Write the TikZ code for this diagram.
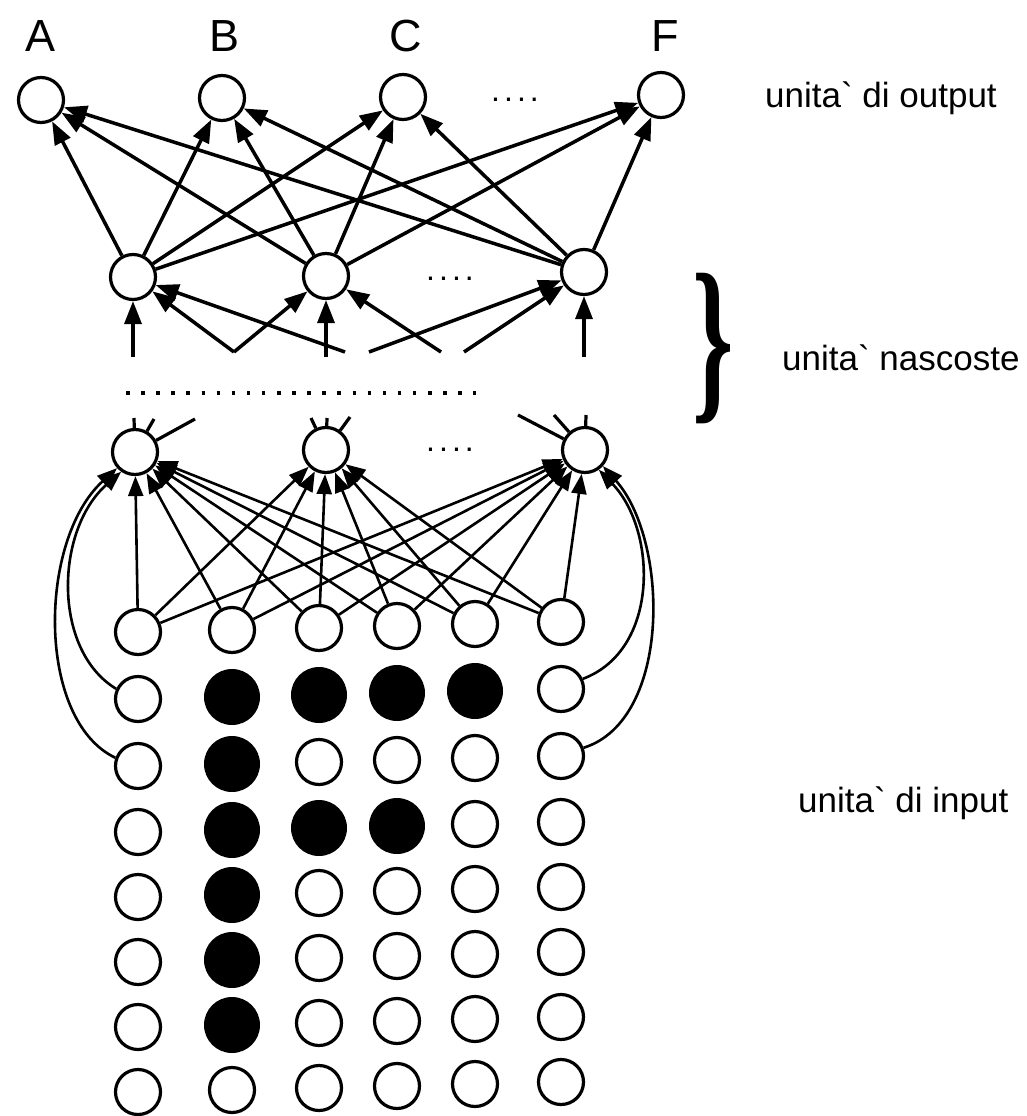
\documentclass[tikz,border=0pt]{standalone}
\usepackage{fontspec}
\usepackage{graphicx}
\newfontfamily\labfont{Liberation Sans}
\newfontfamily\bracefont{Liberation Serif}
\usetikzlibrary{arrows.meta}
\newcommand\inrow[8]{%
  \node[#3] (i#1a) at (138,#2) {};
  \node[#4] (i#1b) at (232,{#2-2}) {};
  \node[#5] (i#1c) at (319,{#2-4}) {};
  \node[#6] (i#1d) at (397,{#2-6}) {};
  \node[#7] (i#1e) at (475,{#2-8}) {};
  \node[#8] (i#1f) at (561,{#2-10}) {};}
\begin{document}
\begin{tikzpicture}[x=1pt,y=-1pt,
  wu/.style={circle,draw,line width=3.2pt,minimum size=45pt,inner sep=0pt,fill=white},
  bu/.style={circle,fill=black,minimum size=56pt,inner sep=0pt},
  outarrow/.style={line width=3.5pt,-{Triangle[length=23pt,width=17pt]}},
  inarrow/.style={line width=2.6pt,-{Triangle[length=20pt,width=15pt]}},
  stubline/.style={line width=3.2pt},
  letter/.style={font=\labfont\fontsize{45}{45}\selectfont,inner sep=0pt},
  caption/.style={font=\labfont\fontsize{35}{35}\selectfont,inner sep=0pt,anchor=base west},
  dotstext/.style={font=\labfont\fontsize{32}{32}\selectfont,inner sep=0pt}
]
\useasboundingbox[fill=white] (0,0) rectangle (1027,1116);

% output layer
\node[letter] (lA) at (41,36) {A};
\node[letter] (lB) at (225,36) {B};
\node[letter] (lC) at (406,36) {C};
\node[letter] (lF) at (665,36) {F};
\node[wu] (oA) at (41,100) {};
\node[wu] (oB) at (222,98) {};
\node[wu] (oC) at (403,97) {};
\node[wu] (oF) at (661,95) {};
\node[dotstext] (od) at (515,100) {.\hspace{4pt}.\hspace{4pt}.\hspace{4pt}.};

% upper hidden layer
\node[wu] (h1) at (133,277) {};
\node[wu] (h2) at (326,276) {};
\node[wu] (h3) at (584,272) {};
\node[dotstext] (hd) at (450,279) {.\hspace{4pt}.\hspace{4pt}.\hspace{4pt}.};

\foreach \h in {h1,h2,h3}
  \foreach \o in {oA,oB,oC,oF}
    \draw[outarrow] (\h) -- (\o);

% cut connections arriving at upper hidden layer
\coordinate (v1) at (133,357);
\coordinate (v2) at (234,352);
\coordinate (v3) at (345,352);
\coordinate (v4) at (326,357);
\coordinate (v5) at (369,352);
\coordinate (v6) at (441,352);
\coordinate (v7) at (464,352);
\coordinate (v8) at (584,357);
\draw[outarrow] (v1) -- (h1);
\draw[outarrow] (v2) -- (h1);
\draw[outarrow] (v3) -- (h1);
\draw[outarrow] (v2) -- (h2);
\draw[outarrow] (v4) -- (h2);
\draw[outarrow] (v6) -- (h2);
\draw[outarrow] (v5) -- (h3);
\draw[outarrow] (v7) -- (h3);
\draw[outarrow] (v8) -- (h3);

% dotted separator
\coordinate (dl) at (126,393);
\coordinate (dr) at (476,393);
\draw[line width=3.5pt,dash pattern=on 3.5pt off 11.6pt] (dl) -- (dr);

% lower hidden layer
\node[wu] (l1) at (135,452) {};
\node[wu] (l2) at (326,450) {};
\node[wu] (l3) at (585,450) {};
\node[dotstext] (ld) at (450,450) {.\hspace{4pt}.\hspace{4pt}.\hspace{4pt}.};

% cut connections leaving lower hidden layer
\coordinate (w1) at (134,418);
\coordinate (w2) at (154,419);
\coordinate (w3) at (195,419);
\coordinate (w4) at (311,418);
\coordinate (w5) at (327,418);
\coordinate (w6) at (350,417);
\coordinate (w7) at (518,415);
\coordinate (w8) at (554,415);
\coordinate (w9) at (586,415);
\draw[stubline] (l1) -- (w1);
\draw[stubline] (l1) -- (w2);
\draw[stubline] (l1) -- (w3);
\draw[stubline] (l2) -- (w4);
\draw[stubline] (l2) -- (w5);
\draw[stubline] (l2) -- (w6);
\draw[stubline] (l3) -- (w7);
\draw[stubline] (l3) -- (w8);
\draw[stubline] (l3) -- (w9);

% input grid
\inrow{0}{632}{wu}{wu}{wu}{wu}{wu}{wu}
\inrow{1}{699}{wu}{bu}{bu}{bu}{bu}{wu}
\inrow{2}{766}{wu}{bu}{wu}{wu}{wu}{wu}
\inrow{3}{832}{wu}{bu}{bu}{bu}{wu}{wu}
\inrow{4}{897}{wu}{bu}{wu}{wu}{wu}{wu}
\inrow{5}{962}{wu}{bu}{wu}{wu}{wu}{wu}
\inrow{6}{1027}{wu}{bu}{wu}{wu}{wu}{wu}
\inrow{7}{1092}{wu}{wu}{wu}{wu}{wu}{wu}

\foreach \c in {a,b,c,d,e,f}
  \foreach \l in {l1,l2,l3}
    \draw[inarrow] (i0\c) -- (\l);

\draw[inarrow] (i1a.155) .. controls (52,650) and (55,530) .. (l1.235);
\draw[inarrow] (i2a.160) .. controls (36,720) and (38,540) .. (l1.222);
\draw[inarrow] (i1f.25) .. controls (660,650) and (657,530) .. (l3.-55);
\draw[inarrow] (i2f.20) .. controls (672,720) and (669,540) .. (l3.-42);

% brace and captions
\node[inner sep=0pt,anchor=base west] (brace) at (692,399)
  {\scalebox{1.05}[1.82]{\bracefont\bfseries\fontsize{100}{100}\selectfont\}}};
\node[caption] (capO) at (765,107) {unita` di output};
\node[caption] (capH) at (782,370) {unita` nascoste};
\node[caption] (capI) at (798,812) {unita` di input};
\end{tikzpicture}
\end{document}
